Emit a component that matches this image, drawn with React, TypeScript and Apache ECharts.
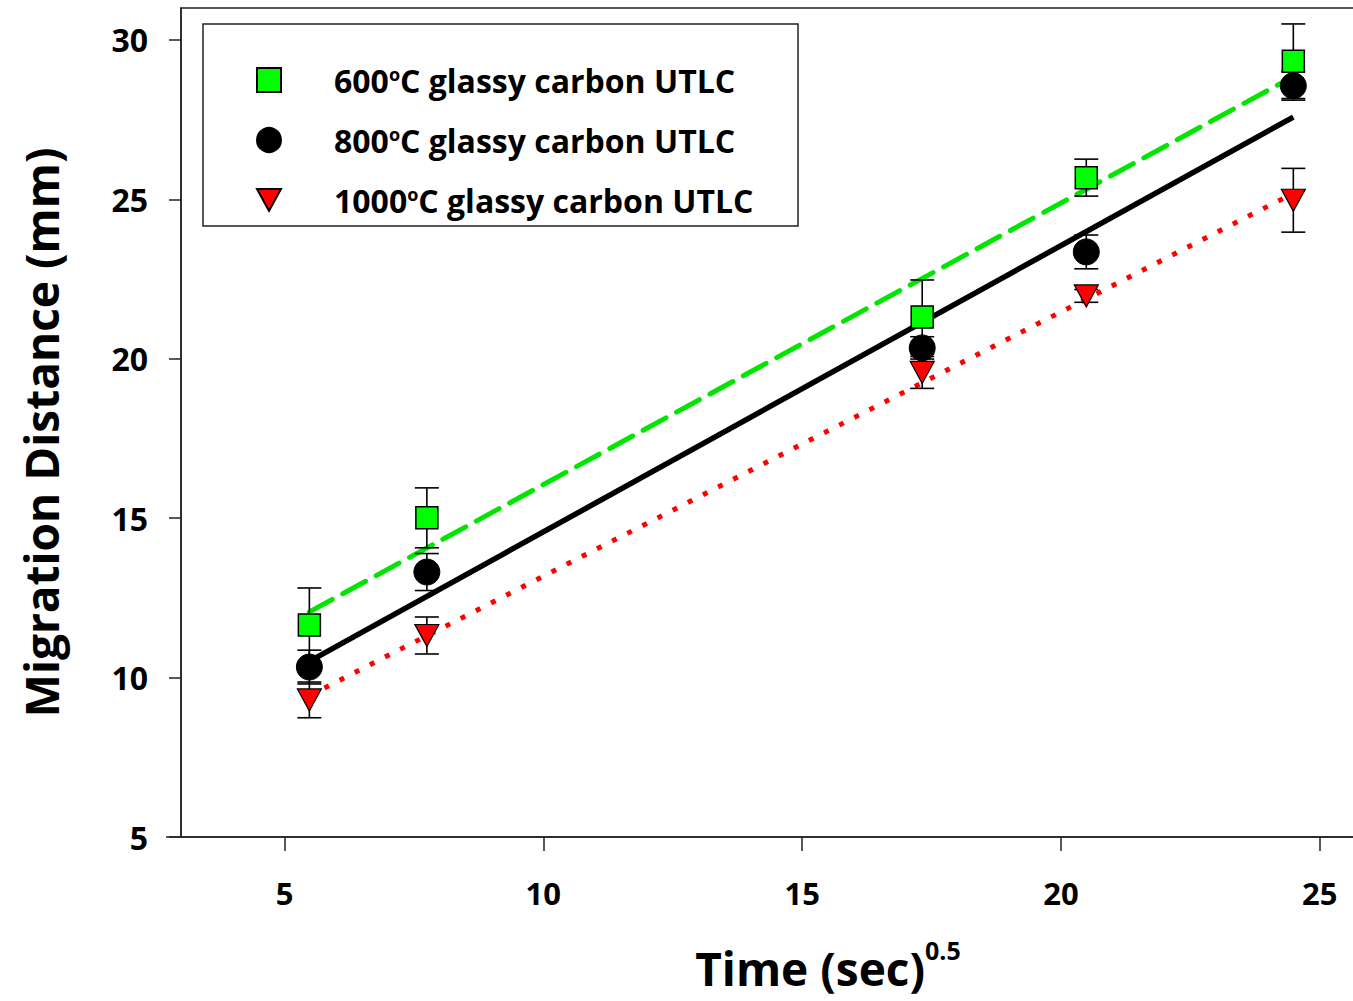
import React, { useEffect, useRef } from "react";
import * as echarts from "echarts";

const timeSqrt = [5.48, 7.75, 17.32, 20.49, 24.49];

const dist600 = [11.65, 15.01, 21.31, 25.68, 29.33];
const err600 = [1.16, 0.94, 1.16, 0.58, 1.17];

const dist800 = [10.33, 13.31, 20.34, 23.35, 28.56];
const err800 = [0.53, 0.58, 0.35, 0.53, 0.45];

const dist1000 = [9.3, 11.32, 19.57, 21.97, 24.97];
const err1000 = [0.56, 0.58, 0.5, 0.2, 1.0];

const fitX = [5.48, 24.49];
const fit600 = [12.06, 28.85];
const fit800 = [10.51, 27.58];
const fit1000 = [9.43, 25.19];

const xTicks = [5, 10, 15, 20, 25];
const yTicks = [5, 10, 15, 20, 25, 30];

const names = [
  "600°C glassy carbon UTLC",
  "800°C glassy carbon UTLC",
  "1000°C glassy carbon UTLC",
];

const FONT = "Open Sans";
const CHART_W = 1480;

function pairs(xs: number[], ys: number[]) {
  return xs.map((x, i) => [x, ys[i]]);
}

function errData(ys: number[], es: number[]) {
  return timeSqrt.map((x, i) => [x, ys[i] - es[i], ys[i] + es[i]]);
}

function errSeries(ys: number[], es: number[]) {
  return {
    type: "custom",
    data: errData(ys, es),
    z: 3,
    silent: true,
    renderItem: (params: any, api: any) => {
      const x = api.value(0);
      const lo = api.coord([x, api.value(1)]);
      const hi = api.coord([x, api.value(2)]);
      const hw = 12;
      const style = { stroke: "#000", lineWidth: 1.6 };
      return {
        type: "group",
        children: [
          { type: "line", shape: { x1: lo[0], y1: lo[1], x2: hi[0], y2: hi[1] }, style },
          { type: "line", shape: { x1: lo[0] - hw, y1: lo[1], x2: lo[0] + hw, y2: lo[1] }, style },
          { type: "line", shape: { x1: hi[0] - hw, y1: hi[1], x2: hi[0] + hw, y2: hi[1] }, style },
        ],
      };
    },
  };
}

export default function App() {
  const ref = useRef<HTMLDivElement>(null);

  useEffect(() => {
    if (!ref.current) return;
    const chart = echarts.init(ref.current, undefined, { renderer: "svg" });
    const axisColor = "#222";
    const option: any = {
      animation: false,
      backgroundColor: "#fff",
      textStyle: { fontFamily: FONT },
      grid: {
        left: 181,
        top: 8,
        bottom: 164,
        right: CHART_W - 1475,
        show: true,
        borderColor: axisColor,
        borderWidth: 1.5,
        containLabel: false,
        outerBoundsMode: "none",
      },
      xAxis: {
        type: "value",
        min: 3,
        max: 28,
        splitLine: { show: false },
        axisLine: { show: true, onZero: false, lineStyle: { color: axisColor, width: 1.5 } },
        axisTick: {
          show: true,
          length: 14,
          inside: false,
          customValues: xTicks,
          lineStyle: { color: axisColor, width: 1.5 },
        },
        axisLabel: {
          customValues: xTicks,
          margin: 40,
          color: "#000",
          fontFamily: FONT,
          fontWeight: "bold",
          fontSize: 31,
        },
        name: "Time (sec){sup|0.5}",
        nameLocation: "middle",
        nameGap: 100,
        nameTextStyle: {
          color: "#000",
          fontFamily: FONT,
          fontWeight: "bold",
          fontSize: 46,
          lineHeight: 62,
          rich: {
            sup: {
              fontFamily: FONT,
              fontWeight: "bold",
              fontSize: 25,
              color: "#000",
              verticalAlign: "top",
              lineHeight: 26,
            },
          },
        },
      },
      yAxis: {
        type: "value",
        min: 5,
        max: 31,
        splitLine: { show: false },
        axisLine: { show: true, onZero: false, lineStyle: { color: axisColor, width: 1.5 } },
        axisTick: {
          show: true,
          length: 12,
          inside: false,
          customValues: yTicks,
          lineStyle: { color: axisColor, width: 1.5 },
        },
        axisLabel: {
          customValues: yTicks,
          margin: 33,
          color: "#000",
          fontFamily: FONT,
          fontWeight: "bold",
          fontSize: 32,
        },
        name: "Migration Distance (mm)",
        nameLocation: "middle",
        nameRotate: 90,
        nameGap: 117,
        nameTextStyle: {
          color: "#000",
          fontFamily: FONT,
          fontWeight: "bold",
          fontSize: 46,
          padding: [0, 20, 0, 0],
        },
      },
      legend: {
        show: true,
        orient: "vertical",
        left: 256,
        top: 64,
        padding: 0,
        itemWidth: 24,
        itemHeight: 24,
        itemGap: 28,
        selectedMode: false,
        data: names,
        formatter: (n: string) => n.replace("°", "{sup|o}"),
        textStyle: {
          color: "#000",
          fontFamily: FONT,
          fontWeight: "bold",
          fontSize: 32,
          lineHeight: 30,
          padding: [0, 0, 0, 48],
          rich: {
            sup: {
              fontFamily: FONT,
              fontWeight: "bold",
              fontSize: 18,
              color: "#000",
              verticalAlign: "top",
              lineHeight: 18,
            },
          },
        },
      },
      graphic: [
        {
          type: "rect",
          shape: { x: 203, y: 24, width: 595, height: 202 },
          style: { fill: "none", stroke: "#222", lineWidth: 1.5 },
          z: 10,
          silent: true,
        },
        {
          type: "line",
          shape: { x1: 166, y1: 837, x2: 181, y2: 837 },
          style: { stroke: axisColor, lineWidth: 1.5 },
          silent: true,
        },
      ],
      series: [
        {
          type: "line",
          name: "fit600",
          data: pairs(fitX, fit600),
          symbol: "none",
          z: 2,
          lineStyle: { color: "#00e600", width: 5, type: [26, 12], cap: "round" },
        },
        {
          type: "line",
          name: "fit800",
          data: pairs(fitX, fit800),
          symbol: "none",
          z: 2,
          lineStyle: { color: "#000", width: 5.5, type: "solid" },
        },
        {
          type: "line",
          name: "fit1000",
          data: pairs(fitX, fit1000),
          symbol: "none",
          z: 2,
          lineStyle: { color: "#ff0000", width: 5, type: [5, 12], cap: "butt" },
        },
        errSeries(dist600, err600),
        errSeries(dist800, err800),
        errSeries(dist1000, err1000),
        {
          type: "scatter",
          name: names[0],
          data: pairs(timeSqrt, dist600),
          symbol: "rect",
          symbolSize: 22,
          z: 5,
          itemStyle: { color: "#00ff00", borderColor: "#000", borderWidth: 1.5, opacity: 1 },
        },
        {
          type: "scatter",
          name: names[1],
          data: pairs(timeSqrt, dist800),
          symbol: "circle",
          symbolSize: 26,
          z: 5,
          itemStyle: { color: "#000", borderColor: "#000", borderWidth: 1, opacity: 1 },
        },
        {
          type: "scatter",
          name: names[2],
          data: pairs(timeSqrt, dist1000),
          symbol: "path://M0,0L24,0L12,22Z",
          symbolSize: [24, 22],
          z: 5,
          itemStyle: { color: "#ff0000", borderColor: "#000", borderWidth: 1.2, opacity: 1 },
        },
      ],
    };
    chart.setOption(option);
    return () => chart.dispose();
  }, []);

  return (
    <div
      style={{
        position: "fixed",
        left: 0,
        top: 0,
        width: 1353,
        height: 1001,
        overflow: "hidden",
        background: "#fff",
      }}
    >
      <div ref={ref} style={{ width: CHART_W, height: 1001 }} />
    </div>
  );
}
